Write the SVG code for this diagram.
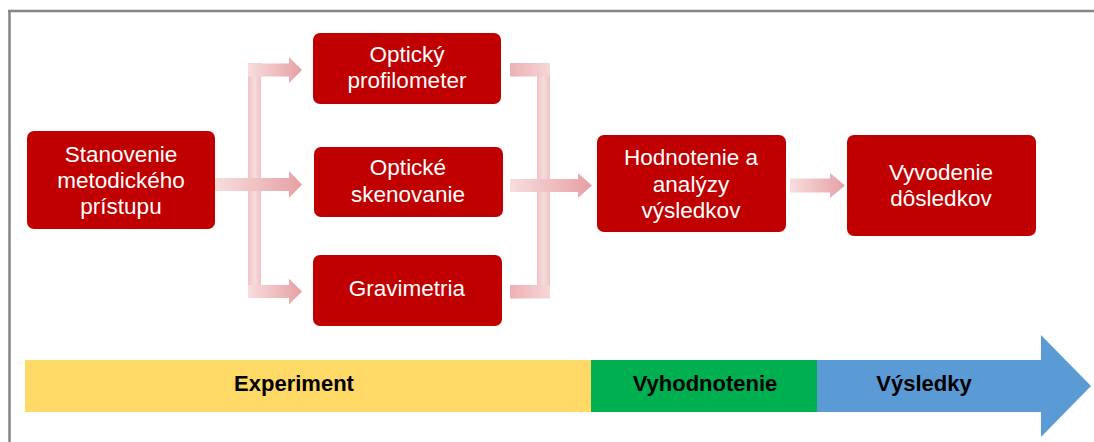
<svg xmlns="http://www.w3.org/2000/svg" width="1094" height="442" viewBox="0 0 1094 442">
  <style>
    .box { fill: #C00000; }
    .lbl { font-family: "Liberation Sans", Arial, sans-serif; font-size: 22.5px; fill: #FFFFFF; text-anchor: middle; }
    .band { font-family: "Liberation Sans", Arial, sans-serif; font-size: 22px; font-weight: bold; fill: #000000; text-anchor: middle; }
    .vbar { fill: #F3CDCE; }
  </style>
  <defs>
    <linearGradient id="gR" x1="0" y1="0" x2="1" y2="0">
      <stop offset="0" stop-color="#F8DDDE"/>
      <stop offset="1" stop-color="#E6A0A4"/>
    </linearGradient>
    <linearGradient id="gL" x1="0" y1="0" x2="1" y2="0">
      <stop offset="0" stop-color="#ECB0B3"/>
      <stop offset="1" stop-color="#F6D6D7"/>
    </linearGradient>
    <linearGradient id="gV" x1="0" y1="0" x2="1" y2="0">
      <stop offset="0" stop-color="#F0C2C4"/>
      <stop offset="0.5" stop-color="#F7DCDD"/>
      <stop offset="1" stop-color="#F0C2C4"/>
    </linearGradient>
  </defs>

  <!-- frame -->
  <g id="frame" stroke="#858585" stroke-width="2.5" fill="none">
    <line x1="8" y1="11" x2="1094" y2="11"/>
    <line x1="9.5" y1="10" x2="9.5" y2="442"/>
  </g>

  <!-- connectors -->
  <g id="connectors">
    <!-- left bracket -->
    <rect x="248" y="63" width="13" height="235" fill="url(#gV)"/>
    <path d="M248 63.5 H289 V57 L302 70 L289 83 V76.5 H248 Z" fill="url(#gR)"/>
    <path d="M215 178 H289 V171 L302 184.5 L289 198 V191 H215 Z" fill="url(#gR)"/>
    <path d="M248 285 H289 V278.5 L302 291.5 L289 304.5 V298 H248 Z" fill="url(#gR)"/>
    <!-- right bracket -->
    <rect x="537" y="63" width="13" height="235" fill="url(#gV)"/>
    <rect x="510" y="63" width="40" height="13.5" fill="url(#gL)"/>
    <rect x="510" y="285" width="40" height="13.5" fill="url(#gL)"/>
    <path d="M510 179 H578 V173 L592 185.5 L578 198 V192 H510 Z" fill="url(#gR)"/>
    <!-- to conclusions -->
    <path d="M790 178.5 H830 V173 L845 185.5 L830 198 V192.5 H790 Z" fill="url(#gR)"/>
  </g>

  <!-- nodes -->
  <g id="n-stanovenie">
    <rect class="box" x="27" y="131" width="188" height="98" rx="7"/>
    <text class="lbl" x="121" y="162">Stanovenie</text>
    <text class="lbl" x="121" y="188">metodického</text>
    <text class="lbl" x="121" y="214">prístupu</text>
  </g>
  <g id="n-profilometer">
    <rect class="box" x="313" y="33" width="188" height="71" rx="7"/>
    <text class="lbl" x="407" y="62">Optický</text>
    <text class="lbl" x="407" y="88">profilometer</text>
  </g>
  <g id="n-skenovanie">
    <rect class="box" x="314" y="147" width="189" height="70" rx="7"/>
    <text class="lbl" x="408" y="175">Optické</text>
    <text class="lbl" x="408" y="202">skenovanie</text>
  </g>
  <g id="n-gravimetria">
    <rect class="box" x="313" y="255" width="189" height="71" rx="7"/>
    <text class="lbl" x="407" y="296">Gravimetria</text>
  </g>
  <g id="n-hodnotenie">
    <rect class="box" x="597" y="135" width="189" height="97" rx="7"/>
    <text class="lbl" x="691" y="165">Hodnotenie a</text>
    <text class="lbl" x="691" y="192">analýzy</text>
    <text class="lbl" x="691" y="218">výsledkov</text>
  </g>
  <g id="n-vyvodenie">
    <rect class="box" x="847" y="135" width="189" height="101" rx="7"/>
    <text class="lbl" x="941" y="180">Vyvodenie</text>
    <text class="lbl" x="941" y="206">dôsledkov</text>
  </g>

  <!-- timeline -->
  <g id="timeline">
    <rect x="25" y="360" width="566" height="52" fill="#FFD966"/>
    <rect x="591" y="360" width="226" height="52" fill="#00B050"/>
    <path d="M817 360 H1041 V335 L1091 386 L1041 437 V412 H817 Z" fill="#5B9BD5"/>
    <text class="band" x="294" y="391">Experiment</text>
    <text class="band" x="705" y="391">Vyhodnotenie</text>
    <text class="band" x="924" y="391">Výsledky</text>
  </g>
</svg>
